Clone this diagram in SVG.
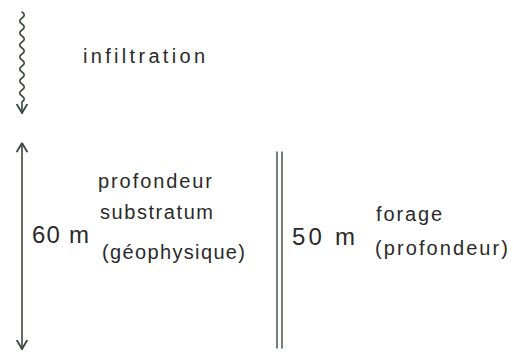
<svg xmlns="http://www.w3.org/2000/svg" width="513" height="352" viewBox="0 0 513 352">
<style>
.t{font-family:"Liberation Sans","DejaVu Sans",sans-serif;fill:#2a2a2a}
.s{font-size:20px}
.ln{stroke:#3a4a3e;fill:none;stroke-linecap:round;stroke-linejoin:round}
</style>
<defs>
<marker id="ah" viewBox="0 0 10 12" refX="9.5" refY="6" markerWidth="10" markerHeight="12" markerUnits="userSpaceOnUse" orient="auto-start-reverse"><path d="M1,1 L9.5,6 L1,11" fill="none" stroke="#3a4a3e" stroke-width="1.8" stroke-linecap="round" stroke-linejoin="round"/></marker>
</defs>
<rect width="513" height="352" fill="#fff"/>
<g id="connectors">
<path class="ln" stroke-width="1.6" d="M22,12 q4.5,3 0,6 q-4.5,3 0,6 q4.5,3 0,6 q-4.5,3 0,6 q4.5,3 0,6 q-4.5,3 0,6 q4.5,3 0,6 q-4.5,3 0,6 q4.5,3 0,6 q-4.5,3 0,6 q4.5,3 0,6 q-4.5,3 0,6 q4.5,3 0,6 q-4.5,3 0,6 q4.5,3 0,6 l0,11" marker-end="url(#ah)"/>
<line class="ln" stroke-width="1.6" x1="22" y1="143" x2="22" y2="349" marker-start="url(#ah)" marker-end="url(#ah)"/>
<line class="ln" stroke-width="1.4" x1="277" y1="152" x2="277" y2="348"/>
<line class="ln" stroke-width="1.4" x1="282" y1="152" x2="282" y2="348"/>
</g>
<g id="infiltration"><text class="t s" x="83" y="63" textLength="122" lengthAdjust="spacing">infiltration</text></g>
<g id="substratum">
<text class="t" x="32" y="243" font-size="24" textLength="57" lengthAdjust="spacing">60 m</text>
<text class="t s" x="98" y="188" textLength="114" lengthAdjust="spacing">profondeur</text>
<text class="t s" x="100" y="219" textLength="113" lengthAdjust="spacing">substratum</text>
<text class="t s" x="102" y="259" textLength="143" lengthAdjust="spacing">(géophysique)</text>
</g>
<g id="forage">
<text class="t" x="292" y="245" font-size="24" textLength="63" lengthAdjust="spacing">50 m</text>
<text class="t s" x="376" y="221" textLength="66" lengthAdjust="spacing">forage</text>
<text class="t s" x="375" y="255" textLength="133" lengthAdjust="spacing">(profondeur)</text>
</g>
</svg>
